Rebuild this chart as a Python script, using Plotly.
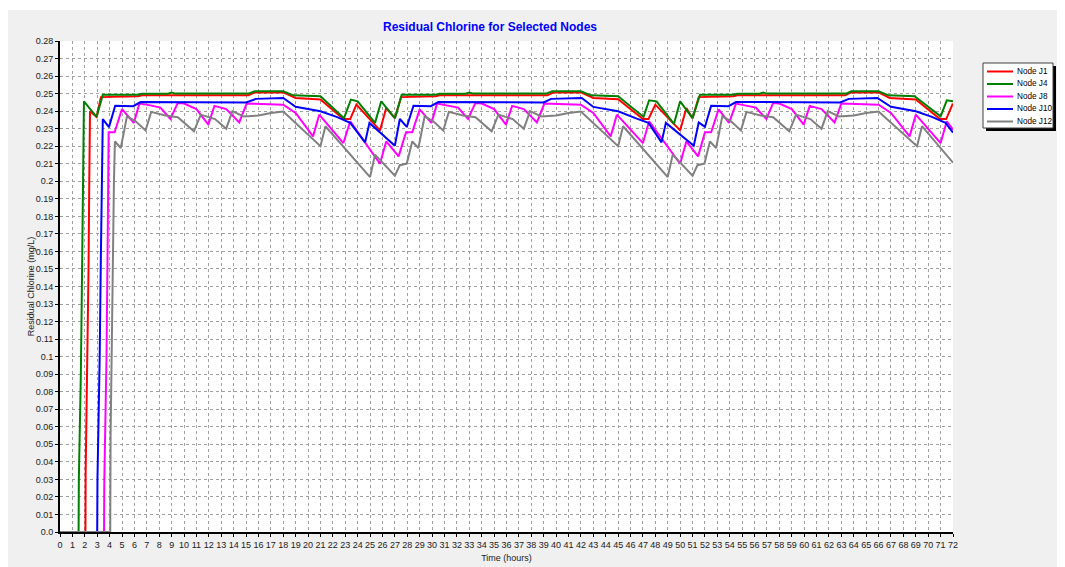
import plotly.graph_objects as go

# ---------------- data ----------------
# Node J1 (red)
t_j1 = [0, 2.05, 2.07, 2.15, 2.22, 2.3, 2.36, 2.42, 2.95, 3.3, 6.3, 6.6, 15.2, 15.7, 18.0, 19.0, 21.0,
        22.85, 23.4, 23.9, 25.8, 26.3, 27.0, 27.5,
        30.3, 30.6, 39.3, 39.8, 42.0, 43.0, 45.0, 47.0, 47.45, 48.0, 50.0, 50.5, 51.0, 51.5,
        54.3, 54.6, 63.3, 63.8, 66.0, 66.9, 69.0, 70.95, 71.45, 71.95, 72.0]
c_j1 = [0, 0, 0.035, 0.068, 0.1, 0.15, 0.2, 0.2399, 0.2367, 0.248, 0.2485, 0.249, 0.249, 0.2507, 0.2507, 0.2475, 0.2466,
        0.2355, 0.2355, 0.2437, 0.229, 0.2418, 0.236, 0.248,
        0.2485, 0.249, 0.249, 0.2507, 0.2507, 0.2475, 0.2468, 0.2355, 0.2355, 0.2437, 0.229, 0.2418, 0.236, 0.248,
        0.2485, 0.249, 0.249, 0.2507, 0.2507, 0.2475, 0.2466, 0.2355, 0.2355, 0.2437, 0.2434]

# Node J4 (green)
t_j4 = [0, 1.5, 1.52, 1.62, 1.68, 1.75, 1.82, 1.88, 1.93, 2.95, 3.45, 6.3, 6.6, 8.7, 9.0, 9.3, 15.2, 15.7, 18.0, 18.8,
        21.0, 22.9, 23.45, 24.0, 25.4, 25.9, 27.0, 27.55,
        30.3, 30.6, 32.7, 33.0, 33.3, 39.2, 39.7, 42.0, 42.8, 45.0, 47.05, 47.5, 48.1, 49.5, 50.0, 51.0, 51.6,
        54.3, 54.6, 56.4, 56.7, 57.0, 63.4, 63.8, 66.0, 66.8, 68.9, 71.0, 71.5, 72.0]
c_j4 = [0, 0, 0.03, 0.06, 0.09, 0.13, 0.17, 0.2, 0.2456, 0.2367, 0.2494, 0.2494, 0.2499, 0.2499, 0.2506, 0.25, 0.25,
        0.2513, 0.2513, 0.249, 0.2485, 0.236, 0.2466, 0.2456, 0.2333, 0.2456, 0.236, 0.2494,
        0.2494, 0.2499, 0.2499, 0.2506, 0.25, 0.25, 0.2513, 0.2513, 0.249, 0.2485, 0.2367, 0.2462, 0.2456, 0.2327,
        0.2456, 0.236, 0.2494,
        0.2494, 0.2499, 0.2499, 0.2506, 0.25, 0.25, 0.2513, 0.2513, 0.249, 0.2485, 0.237, 0.2462, 0.2456]

# Node J8 (magenta)
t_j8 = [0, 3.55, 3.57, 3.65, 3.75, 3.85, 3.92, 4.4, 5.0, 5.95, 6.4, 7.3, 8.1, 8.9, 9.5, 10.0, 11.0, 11.96, 12.45,
        13.4, 14.45, 15.05, 18.0, 19.0, 20.4, 20.9, 22.85, 23.4, 25.8, 26.3, 27.3, 27.9, 28.4,
        29.0, 29.95, 30.4, 31.3, 32.1, 32.9, 33.5, 34.0, 35.0, 35.96, 36.45, 37.4, 38.45, 39.05, 42.0, 43.0, 44.4,
        44.9, 47.0, 47.5, 50.0, 50.5, 51.45, 52.0, 52.5,
        53.1, 53.95, 54.5, 55.3, 56.1, 56.95, 57.5, 58.0, 59.0, 59.96, 60.45, 61.4, 62.45, 63.0, 66.0, 67.0, 68.5,
        69.0, 71.0, 71.5, 72.0]
c_j8 = [0, 0, 0.028, 0.057, 0.1, 0.17, 0.228, 0.228, 0.2412, 0.2333, 0.2443, 0.2433, 0.242, 0.2355, 0.2447, 0.2443,
        0.2412, 0.2323, 0.243, 0.2412, 0.2336, 0.2443, 0.2437, 0.239, 0.2256, 0.238, 0.2218, 0.2342, 0.21, 0.2227,
        0.2142, 0.228, 0.228,
        0.241, 0.2333, 0.2443, 0.2433, 0.242, 0.2355, 0.2447, 0.2443, 0.2412, 0.2323, 0.243, 0.2412, 0.2336, 0.2443,
        0.2437, 0.239, 0.2256, 0.238, 0.2218, 0.2342, 0.21, 0.2227, 0.2142, 0.228, 0.228,
        0.241, 0.2333, 0.2443, 0.2433, 0.242, 0.2355, 0.2447, 0.2443, 0.2412, 0.2323, 0.243, 0.2412, 0.2336, 0.2443,
        0.2437, 0.239, 0.2256, 0.238, 0.2218, 0.2342, 0.2295]

# Node J10 (blue)
t_j10 = [0, 3.0, 3.02, 3.1, 3.2, 3.3, 3.38, 3.45, 3.95, 4.45, 5.9, 6.5, 15.0, 15.8, 18.0, 19.0, 21.0, 22.3, 23.4,
         24.6, 24.95, 27.0, 27.4, 27.96, 28.5,
         29.9, 30.5, 39.0, 39.6, 42.07, 43.0, 45.0, 46.5, 47.45, 48.5, 48.85, 51.1, 51.5, 52.0, 52.5,
         53.9, 54.5, 62.9, 63.6, 65.9, 67.0, 69.0, 70.3, 71.4, 72.0]
c_j10 = [0, 0, 0.03, 0.06, 0.1, 0.16, 0.2, 0.2355, 0.2309, 0.2431, 0.2428, 0.2452, 0.245, 0.247, 0.2475, 0.2425,
         0.2399, 0.2367, 0.2333, 0.2222, 0.2333, 0.2203, 0.2355, 0.231, 0.2431,
         0.2428, 0.2452, 0.245, 0.247, 0.2475, 0.2424, 0.2399, 0.2357, 0.2333, 0.2222, 0.2333, 0.2203, 0.2336,
         0.231, 0.2431,
         0.2428, 0.2452, 0.245, 0.247, 0.2475, 0.2425, 0.2399, 0.2367, 0.2333, 0.2278]

# Node J12 (grey)
t_j12 = [0, 4.05, 4.08, 4.15, 4.25, 4.35, 4.43, 4.9, 5.4, 6.1, 6.9, 7.35, 8.5, 9.5, 10.8, 11.35, 12.5, 13.4, 13.9,
         14.8, 16.0, 17.0, 18.0, 21.0, 21.4, 25.0, 25.4, 27.0, 27.4, 27.96, 28.4,
         28.9, 29.4, 30.1, 30.9, 31.35, 32.5, 33.5, 34.8, 35.35, 36.5, 37.4, 37.9, 38.8, 40.0, 41.0, 42.0, 45.0,
         45.4, 49.0, 49.4, 51.0, 51.4, 51.96, 52.4,
         52.9, 53.4, 54.1, 54.9, 55.35, 56.5, 57.5, 58.8, 59.35, 60.5, 61.4, 61.9, 62.8, 64.0, 65.0, 66.0, 69.1,
         69.5, 72.0]
c_j12 = [0, 0, 0.055, 0.1, 0.16, 0.2, 0.2227, 0.219, 0.237, 0.2342, 0.229, 0.2396, 0.2375, 0.2365, 0.2285, 0.238,
         0.2355, 0.23, 0.24, 0.237, 0.2375, 0.239, 0.2398, 0.22, 0.2314, 0.2024, 0.2152, 0.2032, 0.2092, 0.2101,
         0.2227,
         0.219, 0.237, 0.2342, 0.229, 0.2396, 0.2375, 0.2365, 0.2285, 0.238, 0.2355, 0.23, 0.24, 0.237, 0.2375,
         0.239, 0.2398, 0.22, 0.2314, 0.2024, 0.2152, 0.2032, 0.2092, 0.2101, 0.2227,
         0.219, 0.237, 0.2342, 0.229, 0.2396, 0.2375, 0.2365, 0.2285, 0.238, 0.2355, 0.23, 0.24, 0.237, 0.2375,
         0.239, 0.2398, 0.22, 0.2314, 0.2106]

series_names = ["Node J1", "Node J4", "Node J8", "Node J10", "Node J12"]
series_colors = ["#ff0000", "#008000", "#ff00ff", "#0000ff", "#808080"]
series_t = [t_j1, t_j4, t_j8, t_j10, t_j12]
series_c = [c_j1, c_j4, c_j8, c_j10, c_j12]

x_ticks = list(range(0, 73))
y_tick_vals = [0.0, 0.01, 0.02, 0.03, 0.04, 0.05, 0.06, 0.07, 0.08, 0.09, 0.1, 0.11, 0.12, 0.13, 0.14,
               0.15, 0.16, 0.17, 0.18, 0.19, 0.2, 0.21, 0.22, 0.23, 0.24, 0.25, 0.26, 0.27, 0.28]
y_tick_text = ["0.0", "0.01", "0.02", "0.03", "0.04", "0.05", "0.06", "0.07", "0.08", "0.09", "0.1", "0.11",
               "0.12", "0.13", "0.14", "0.15", "0.16", "0.17", "0.18", "0.19", "0.2", "0.21", "0.22", "0.23",
               "0.24", "0.25", "0.26", "0.27", "0.28"]

# ---------------- layout geometry (pixels, page coords minus 8px body margin) ----------------
OFF = 8
W, H = 1065 - OFF, 567 - OFF
L, R, T, B = 60 - OFF, 953 - OFF, 41 - OFF, 532 - OFF
PW, PH = R - L, B - T


def px(x):
    """page x pixel -> paper coordinate"""
    return (x - OFF - L) / PW


def py(y):
    """page y pixel -> paper coordinate"""
    return (B - (y - OFF)) / PH


FONT = "Liberation Sans, Arial, sans-serif"

fig = go.Figure()
for name, t, c, col in zip(series_names, series_t, series_c, series_colors):
    fig.add_trace(go.Scatter(x=t, y=c, mode="lines", name=name,
                             line=dict(color=col, width=2), showlegend=False))

axis_common = dict(
    showgrid=True, gridcolor="#a0a0a0", gridwidth=1, griddash="3px,3px",
    showline=True, linecolor="black", linewidth=2,
    ticks="outside", ticklen=3, tickcolor="black", tickwidth=1,
    tickfont=dict(family=FONT, size=9, color="#202020"),
    zeroline=False, automargin=False,
)

fig.update_layout(
    width=W, height=H,
    margin=dict(l=L, r=W - R, t=T, b=H - B, pad=0),
    paper_bgcolor="#f0f0f0",
    plot_bgcolor="white",
    title=dict(text="<b>Residual Chlorine for Selected Nodes</b>",
               font=dict(family=FONT, size=12, color="#0000ff"),
               x=px(490), xref="paper", xanchor="center",
               y=1 - (27 - OFF) / H, yref="container", yanchor="middle"),
    xaxis=dict(range=[0, 72], tickmode="array", tickvals=x_ticks,
               title=dict(text="Time (hours)", font=dict(family=FONT, size=9, color="#202020"), standoff=6),
               **axis_common),
    yaxis=dict(range=[0, 0.28], tickmode="array", tickvals=y_tick_vals, ticktext=y_tick_text,
               title=dict(text="Residual Chlorine (mg/L)", font=dict(family=FONT, size=9, color="#202020"),
                          standoff=0),
               **axis_common),
    showlegend=False,
)

shapes = []
# thin white strip at the very top (cropped page above the chart)
shapes.append(dict(type="rect", xref="paper", yref="paper", x0=px(0), x1=px(1065), y0=py(10), y1=py(OFF),
                   fillcolor="white", line=dict(width=0), layer="above"))
# custom legend box with shadow
lx0, lx1, ly0, ly1 = 983, 1053, 63, 128
shapes.append(dict(type="rect", xref="paper", yref="paper", x0=px(lx0 + 3), x1=px(lx1 + 3),
                   y0=py(ly1 + 3), y1=py(ly0 + 3), fillcolor="black", line=dict(width=0), layer="above"))
shapes.append(dict(type="rect", xref="paper", yref="paper", x0=px(lx0), x1=px(lx1),
                   y0=py(ly1), y1=py(ly0), fillcolor="white", line=dict(color="#404040", width=1),
                   layer="above"))
annotations = []
entry_y = [71.5, 84, 96.5, 109, 121.5]
for name, col, ey in zip(series_names, series_colors, entry_y):
    shapes.append(dict(type="line", xref="paper", yref="paper", x0=px(987), x1=px(1013),
                       y0=py(ey), y1=py(ey), line=dict(color=col, width=2), layer="above"))
    annotations.append(dict(text=name, xref="paper", yref="paper", x=px(1015), y=py(ey),
                            xanchor="left", yanchor="middle", showarrow=False,
                            font=dict(family=FONT, size=8.2, color="black")))

fig.update_layout(shapes=shapes, annotations=annotations)
fig.write_html("out.html")
